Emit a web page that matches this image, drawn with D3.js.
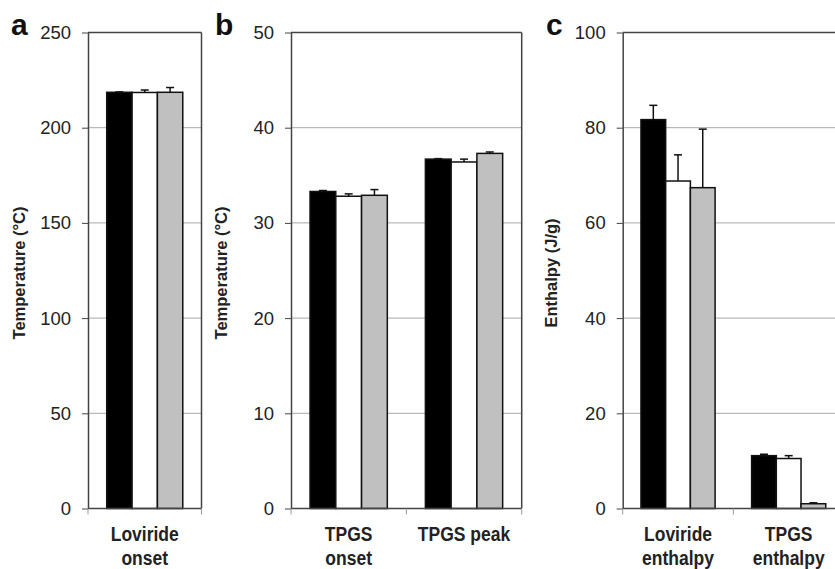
<!DOCTYPE html>
<html>
<head>
<meta charset="utf-8">
<script src="https://cdn.jsdelivr.net/npm/d3@7"></script>
<style>
  body { margin: 0; background: #fff; }
  svg { display: block; font-family: 'Liberation Sans', Arial, sans-serif; }
  .tick text { font-size: 18.5px; fill: #222; }
  .cat-label { font-size: 17.5px; font-weight: bold; fill: #222; }
  .y-title { font-size: 16.5px; font-weight: bold; fill: #222; }
  .panel-letter { font-size: 30px; font-weight: bold; fill: #111; }
</style>
</head>
<body>
<svg id="chart" width="835" height="569"></svg>
<script>
'use strict';

// Series: three formulations, drawn black / white / grey.
const seriesNames = ['s1', 's2', 's3'];
const seriesFill = ['#000', '#fff', '#c0c0c0'];

// Panel a
const catsA = [['Loviride', 'onset']];
const valuesA = [[218.6, 218.5, 218.6]];
const errorsA = [[0.2, 1.3, 2.5]];
const ticksA = [0, 50, 100, 150, 200, 250];

// Panel b
const catsB = [['TPGS', 'onset'], ['TPGS peak']];
const valuesB = [[33.3, 32.8, 32.9], [36.7, 36.4, 37.3]];
const errorsB = [[0.1, 0.25, 0.6], [0.05, 0.3, 0.15]];
const ticksB = [0, 10, 20, 30, 40, 50];

// Panel c
const catsC = [['Loviride', 'enthalpy'], ['TPGS', 'enthalpy']];
const valuesC = [[81.7, 68.8, 67.4], [11.1, 10.5, 1.0]];
const errorsC = [[3.0, 5.5, 12.3], [0.3, 0.6, 0.2]];
const ticksC = [0, 20, 40, 60, 80, 100];

const svg = d3.select('#chart');
const yTop = 32.5;
const yBottom = 508.5;

function panel(opts) {
  const g = svg.append('g');
  const catNames = opts.cats.map(c => c.join(' '));

  const x = d3.scaleBand()
    .domain(catNames)
    .range([opts.left, opts.right])
    .padding(0);
  const bw = x.bandwidth();
  const gap = bw * 0.165;
  const xs = d3.scaleBand()
    .domain(seriesNames)
    .range([gap, bw - gap])
    .padding(0);

  const y = d3.scaleLinear()
    .domain([0, d3.max(opts.ticks)])
    .range([yBottom, yTop]);

  // Gridlines (skip the baseline and the top edge).
  g.append('g').selectAll('line')
    .data(opts.ticks.slice(1, -1))
    .join('line')
    .attr('x1', opts.left).attr('x2', opts.right)
    .attr('y1', d => y(d)).attr('y2', d => y(d))
    .attr('stroke', '#a8a8a8').attr('stroke-width', 1);

  // Frame
  g.append('line')
    .attr('x1', opts.left).attr('x2', opts.right)
    .attr('y1', yTop).attr('y2', yTop)
    .attr('stroke', '#444').attr('stroke-width', 1.5);
  if (opts.rightBorder) {
    g.append('line')
      .attr('x1', opts.right).attr('x2', opts.right)
      .attr('y1', yTop).attr('y2', yBottom)
      .attr('stroke', '#444').attr('stroke-width', 1.5);
  }

  // Bars
  const rows = opts.values.map((vals, i) => ({
    cat: catNames[i],
    bars: vals.map((v, j) => ({ s: seriesNames[j], v: v, e: opts.errors[i][j], fill: seriesFill[j] }))
  }));

  const groups = g.append('g').selectAll('g.cat')
    .data(rows)
    .join('g')
    .attr('class', 'cat')
    .attr('transform', d => `translate(${x(d.cat)},0)`);

  groups.selectAll('rect')
    .data(d => d.bars)
    .join('rect')
    .attr('x', d => xs(d.s))
    .attr('width', xs.bandwidth())
    .attr('y', d => y(d.v))
    .attr('height', d => yBottom - y(d.v))
    .attr('fill', d => d.fill)
    .attr('stroke', '#111')
    .attr('stroke-width', 1.5);

  // Upper error bars
  const err = groups.selectAll('g.err')
    .data(d => d.bars)
    .join('g')
    .attr('class', 'err')
    .attr('stroke', '#111')
    .attr('stroke-width', 1.5);
  err.append('line')
    .attr('x1', d => xs(d.s) + xs.bandwidth() / 2)
    .attr('x2', d => xs(d.s) + xs.bandwidth() / 2)
    .attr('y1', d => y(d.v))
    .attr('y2', d => y(d.v + d.e));
  err.append('line')
    .attr('x1', d => xs(d.s) + xs.bandwidth() / 2 - 4)
    .attr('x2', d => xs(d.s) + xs.bandwidth() / 2 + 4)
    .attr('y1', d => y(d.v + d.e))
    .attr('y2', d => y(d.v + d.e));

  // Left axis
  const yAxis = g.append('g')
    .attr('transform', `translate(${opts.left},0)`)
    .call(d3.axisLeft(y).tickValues(opts.ticks).tickSize(6).tickPadding(11).tickSizeOuter(0));
  yAxis.select('.domain').attr('stroke', '#444').attr('stroke-width', 1.5);
  yAxis.selectAll('.tick line').attr('stroke', '#444');
  yAxis.selectAll('.tick text').attr('font-family', null).attr('font-size', null);

  // Bottom axis: baseline with ticks at category boundaries
  g.append('line')
    .attr('x1', opts.left).attr('x2', opts.right)
    .attr('y1', yBottom).attr('y2', yBottom)
    .attr('stroke', '#444').attr('stroke-width', 1.5);
  const bounds = catNames.map(c => x(c)).concat([opts.right]);
  g.append('g').selectAll('line')
    .data(bounds)
    .join('line')
    .attr('x1', d => d).attr('x2', d => d)
    .attr('y1', yBottom).attr('y2', yBottom + 6)
    .attr('stroke', '#999');

  // Category labels, slightly stretched vertically like the source
  const labels = g.append('g').selectAll('text')
    .data(opts.cats)
    .join('text')
    .attr('class', 'cat-label')
    .attr('text-anchor', 'middle')
    .attr('transform', (d, i) => `translate(${x(catNames[i]) + bw / 2},541) scale(1,1.18)`);
  labels.selectAll('tspan')
    .data(d => d)
    .join('tspan')
    .attr('x', 0)
    .attr('dy', (d, i) => i === 0 ? 0 : 20.5)
    .text(d => d);

  // Axis title and panel letter
  g.append('text')
    .attr('class', 'y-title')
    .attr('text-anchor', 'middle')
    .attr('transform', `translate(${opts.titleX},273) rotate(-90)`)
    .text(opts.title);
  g.append('text')
    .attr('class', 'panel-letter')
    .attr('x', opts.letterX)
    .attr('y', 35)
    .text(opts.letter);
}

panel({
  cats: catsA, values: valuesA, errors: errorsA, ticks: ticksA,
  left: 88, right: 201.5, rightBorder: true,
  title: 'Temperature (°C)', titleX: 25, letter: 'a', letterX: 11
});
panel({
  cats: catsB, values: valuesB, errors: errorsB, ticks: ticksB,
  left: 291, right: 521.7, rightBorder: true,
  title: 'Temperature (°C)', titleX: 227, letter: 'b', letterX: 215
});
panel({
  cats: catsC, values: valuesC, errors: errorsC, ticks: ticksC,
  left: 622.7, right: 844, rightBorder: false,
  title: 'Enthalpy (J/g)', titleX: 557, letter: 'c', letterX: 546
});
</script>
</body>
</html>
